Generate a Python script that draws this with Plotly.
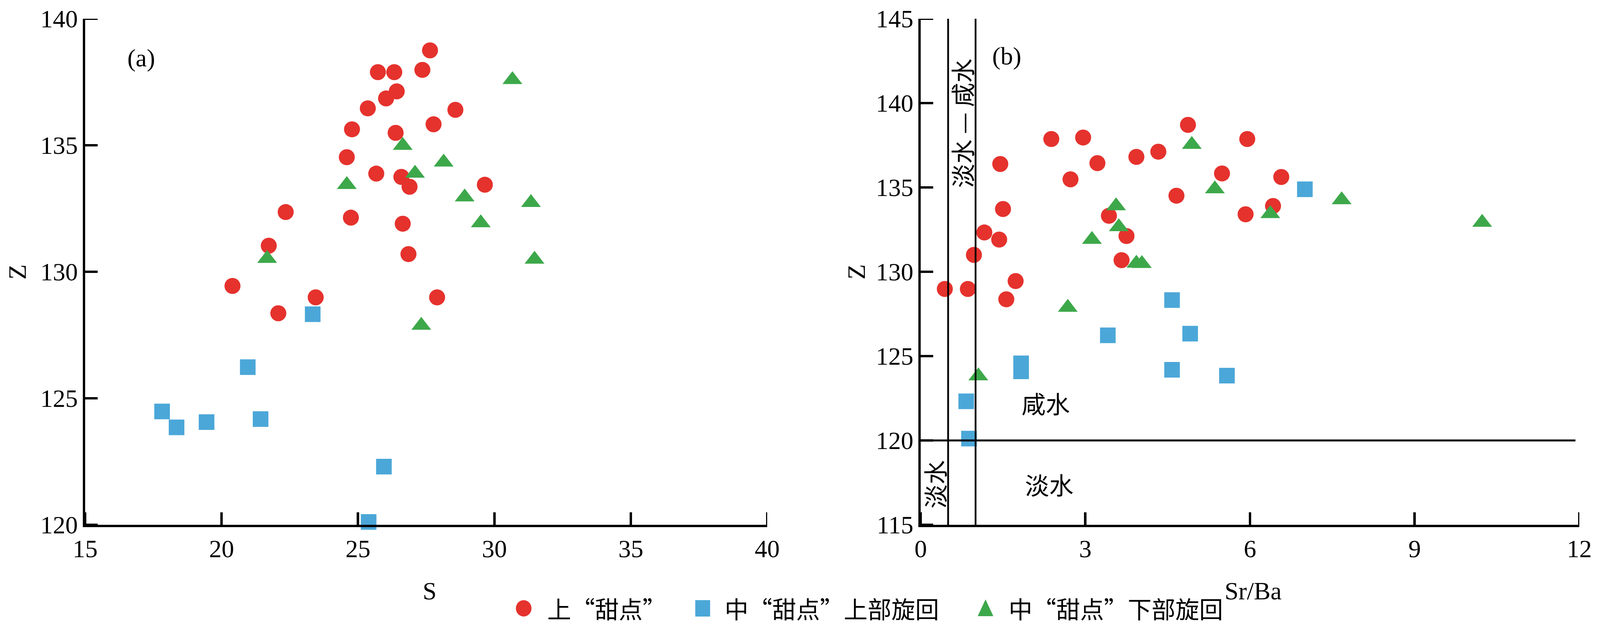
import plotly.graph_objects as go
from plotly.subplots import make_subplots

# ---- panel (a): S vs Z ----
s_upper = [27.64, 25.73, 26.33, 27.36, 26.42, 26.03, 25.36, 28.57, 24.78, 27.77, 26.38, 24.59, 25.67,
           26.59, 26.89, 29.65, 22.35, 24.74, 26.64, 21.73, 26.85, 20.40, 23.45, 27.90, 22.08]
z_upper_a = [138.75, 137.89, 137.89, 137.98, 137.13, 136.85, 136.46, 136.40, 135.63, 135.83, 135.49, 134.53, 133.88,
             133.75, 133.36, 133.44, 132.36, 132.14, 131.90, 131.03, 130.70, 129.44, 128.99, 128.99, 128.36]

s_mid_top = [23.34, 20.96, 17.82, 18.35, 19.45, 21.43, 25.95, 25.39]
z_mid_top_a = [128.32, 126.23, 124.48, 123.85, 124.06, 124.18, 122.30, 120.11]

s_mid_low = [30.66, 26.64, 28.14, 27.09, 24.59, 28.91, 31.34, 29.50, 21.67, 31.47, 27.32]
z_mid_low_a = [137.59, 134.99, 134.33, 133.89, 133.44, 132.95, 132.73, 131.93, 130.52, 130.49, 127.88]

# ---- panel (b): Sr/Ba vs Z ----
srba_upper = [4.87, 2.38, 2.96, 5.95, 4.33, 3.93, 1.45, 3.22, 5.49, 2.73, 6.57, 4.66, 6.42,
              1.50, 3.43, 5.92, 1.16, 3.75, 1.43, 0.97, 3.66, 1.73, 0.44, 0.86, 1.56]
z_upper_b = [138.71, 137.87, 137.96, 137.87, 137.12, 136.81, 136.39, 136.44, 135.83, 135.48, 135.62, 134.51, 133.90,
             133.72, 133.32, 133.41, 132.33, 132.12, 131.91, 131.00, 130.69, 129.45, 128.98, 128.98, 128.37]

srba_mid_top = [7.00, 4.58, 3.41, 4.91, 1.83, 1.83, 4.58, 5.58, 0.83, 0.88]
z_mid_top_b = [134.89, 128.32, 126.23, 126.33, 124.57, 124.10, 124.19, 123.84, 122.32, 120.11]

srba_mid_low = [4.94, 5.36, 7.67, 3.56, 6.37, 10.23, 3.61, 3.12, 3.93, 4.03, 2.68, 1.05]
z_mid_low_b = [137.54, 134.91, 134.26, 133.90, 133.44, 132.92, 132.66, 131.91, 130.50, 130.48, 127.88, 123.82]

# tick labels
s_ticks = [15, 20, 25, 30, 35, 40]
z_ticks_a = [120, 125, 130, 135, 140]
srba_ticks = [0, 3, 6, 9, 12]
z_ticks_b = [115, 120, 125, 130, 135, 140, 145]

# environment boundaries in (b)
srba_bounds = [0.5, 1.0]
z_bound = 120

group_names = ["上“甜点”", "中“甜点”上部旋回", "中“甜点”下部旋回"]

RED = "#E5322D"
BLUE = "#4BA7D8"
GREEN = "#3DA84A"
NUM_FONT = "Liberation Serif, Times New Roman, serif"
CJK_FONT = "Noto Sans CJK SC, Liberation Serif, sans-serif"
FS = 64

# page geometry (the browser view is 4096 px wide, so the figure is laid out to fit it)
W, H = 4080, 1600
M = dict(l=210, r=45, t=40, b=264)
plot_w = W - M["l"] - M["r"]
plot_h = H - M["t"] - M["b"]
dom_xa, dom_ya = [0, 0.4565], [0, 1]
dom_xb, dom_yb = [0.5592, 1], [0, 1]
TICK_LEN = 32

styles = [(RED, "circle", 41), (BLUE, "square", 40), (GREEN, "triangle-up", 44)]

fig = make_subplots(rows=1, cols=2)

panel_a = [(s_upper, z_upper_a), (s_mid_top, z_mid_top_a), (s_mid_low, z_mid_low_a)]
panel_b = [(srba_upper, z_upper_b), (srba_mid_top, z_mid_top_b), (srba_mid_low, z_mid_low_b)]

for col, panel in [(1, panel_a), (2, panel_b)]:
    for (xs, zs), name, (color, symbol, size) in zip(panel, group_names, styles):
        fig.add_trace(go.Scatter(
            x=xs, y=zs, mode="markers", name=name, showlegend=False,
            marker=dict(color=color, symbol=symbol, size=size, line=dict(width=0)),
            cliponaxis=False,
        ), row=1, col=col)

axis_style = dict(
    showline=True, linecolor="black", linewidth=6,
    ticks="inside", ticklen=TICK_LEN, tickwidth=6, tickcolor="black",
    showgrid=False, zeroline=False, ticklabeloverflow="allow", automargin=False,
    tickfont=dict(family=NUM_FONT, size=FS, color="black"), tickmode="array", layer="above traces",
)

fig.update_xaxes(range=[s_ticks[0], s_ticks[-1]], tickvals=s_ticks, domain=dom_xa, row=1, col=1, **axis_style)
fig.update_yaxes(range=[z_ticks_a[0], z_ticks_a[-1]], tickvals=z_ticks_a, domain=dom_ya, row=1, col=1, **axis_style)
fig.update_xaxes(range=[srba_ticks[0], srba_ticks[-1]], tickvals=srba_ticks, domain=dom_xb, row=1, col=2, **axis_style)
fig.update_yaxes(range=[z_ticks_b[0], z_ticks_b[-1]], tickvals=z_ticks_b, domain=dom_yb, row=1, col=2, **axis_style)

# inward tick marks, drawn as shapes at the tick values
for xr, yr, xt, yt, dx, dy in [("x", "y", s_ticks, z_ticks_a, dom_xa, dom_ya),
                               ("x2", "y2", srba_ticks, z_ticks_b, dom_xb, dom_yb)]:
    frac_y = TICK_LEN / (plot_h * (dy[1] - dy[0]))
    frac_x = TICK_LEN / (plot_w * (dx[1] - dx[0]))
    for v in xt:
        fig.add_shape(type="line", xref=xr, yref=yr + " domain", x0=v, x1=v, y0=0, y1=frac_y,
                      line=dict(color="black", width=6), layer="above")
    for v in yt:
        fig.add_shape(type="line", xref=xr + " domain", yref=yr, x0=0, x1=frac_x, y0=v, y1=v,
                      line=dict(color="black", width=6), layer="above")

# boundary lines in (b)
for xb in srba_bounds:
    fig.add_shape(type="line", xref="x2", yref="y2", x0=xb, x1=xb, y0=z_ticks_b[0], y1=z_ticks_b[-1],
                  line=dict(color="black", width=4.5))
fig.add_shape(type="line", xref="x2", yref="y2", x0=0, x1=11.93, y0=z_bound, y1=z_bound,
              line=dict(color="black", width=5))

ann = [
    # axis titles
    dict(text="S", xref="x domain", yref="paper", x=0.505, y=-0.131, font=dict(family=NUM_FONT, size=FS)),
    dict(text="Sr/Ba", xref="x2 domain", yref="paper", x=0.505, y=-0.131, font=dict(family=NUM_FONT, size=FS)),
    dict(text="Z", xref="paper", yref="y domain", x=-0.0455, y=0.5, textangle=-90,
         font=dict(family=NUM_FONT, size=FS)),
    dict(text="Z", xref="paper", yref="y2 domain", x=0.5160, y=0.5, textangle=-90,
         font=dict(family=NUM_FONT, size=FS)),
    # panel labels and water zones
    dict(text="(a)", xref="x", yref="y", x=17.06, y=138.45, font=dict(family=NUM_FONT, size=FS)),
    dict(text="(b)", xref="x2", yref="y2", x=1.57, y=142.8, font=dict(family=NUM_FONT, size=FS)),
    dict(text="淡水 — 咸水", xref="x2", yref="y2", x=0.75, y=138.8, textangle=-90,
         font=dict(family=CJK_FONT, size=62)),
    dict(text="淡水", xref="x2", yref="y2", x=0.25, y=117.4, textangle=-90,
         font=dict(family=CJK_FONT, size=62)),
    dict(text="咸水", xref="x2", yref="y2", x=2.28, y=122.22, font=dict(family=CJK_FONT, size=62)),
    dict(text="淡水", xref="x2", yref="y2", x=2.34, y=117.41, font=dict(family=CJK_FONT, size=62)),
]
for a in ann:
    a.update(showarrow=False, xanchor="center", yanchor="middle")
    a["font"]["color"] = "black"
    fig.add_annotation(**a)

# legend drawn below the panels
leg_y = -0.1651
leg_marks = [0.2935, 0.4133, 0.6026]
leg_texts = [0.3087, 0.4275, 0.6174]
pix = dict(xref="paper", yref="paper", xsizemode="pixel", ysizemode="pixel", yanchor=leg_y)
fig.add_shape(type="circle", xanchor=leg_marks[0], x0=-20, x1=20, y0=-21, y1=21,
              fillcolor=RED, line_width=0, **pix)
fig.add_shape(type="rect", xanchor=leg_marks[1], x0=-19, x1=19, y0=-21, y1=21,
              fillcolor=BLUE, line_width=0, **pix)
fig.add_shape(type="path", xanchor=leg_marks[2], path="M -20,-20 L 20,-20 L 0,23 Z",
              fillcolor=GREEN, line_width=0, **pix)
for xt, name in zip(leg_texts, group_names):
    fig.add_annotation(text=name, xref="paper", yref="paper", x=xt, y=leg_y,
                       xanchor="left", yanchor="middle", showarrow=False,
                       font=dict(family=CJK_FONT, size=61, color="black"))

fig.update_layout(
    width=W, height=H, autosize=False,
    margin=M,
    plot_bgcolor="white", paper_bgcolor="white",
    showlegend=False,
)

fig.write_html("out.html")
